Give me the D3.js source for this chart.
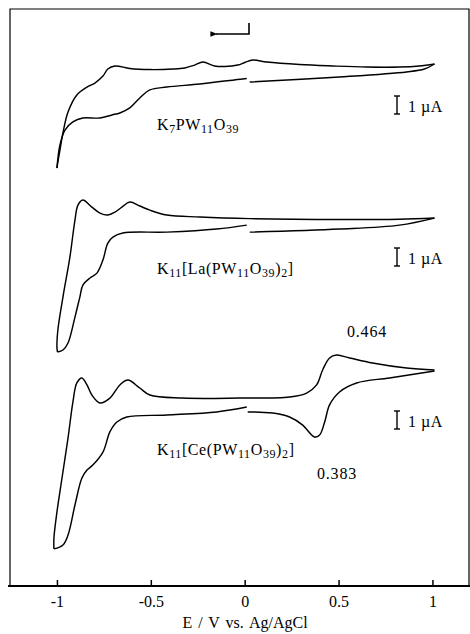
<!DOCTYPE html>
<html><head><meta charset="utf-8">
<script src="https://cdn.jsdelivr.net/npm/d3@7"></script>
<style>body{margin:0;background:#fff}svg{display:block}</style>
</head><body><svg id="c" width="470" height="634"></svg>
<script>
// ---- data (E in V vs Ag/AgCl, I in µA relative to each trace's baseline) ----
const xTicks = [-1, -0.5, 0, 0.5, 1];
const xTickLabels = ["-1", "-0.5", "0", "0.5", "1"];
const traceNames = ["K7PW11O39", "K11[La(PW11O39)2]", "K11[Ce(PW11O39)2]"];
const traceOffsets = [29.0, 20.44, 12.0];   // µA, vertical stacking offsets

// K7PW11O39
const k7Fwd = [[1.011,0],[0.93,-0.11],[0.824,-0.17],[0.649,-0.17],[0.468,-0.11],[0.293,-0.03],[0.117,0.11],[0.043,0.22],[0,0.08],[-0.037,-0.06],[-0.106,-0.14],[-0.16,-0.11],[-0.223,0.11],[-0.266,-0.06],[-0.319,-0.22],[-0.383,-0.28],[-0.505,-0.31],[-0.612,-0.25],[-0.691,-0.11],[-0.729,-0.28],[-0.755,-0.67],[-0.798,-1.06],[-0.84,-1.28],[-0.894,-1.72],[-0.941,-2.67],[-0.968,-3.83],[-0.984,-4.78],[-0.995,-5.44],[-1.0,-5.78]];
const k7RevA = [[-1.0,-5.78],[-0.984,-4.5],[-0.957,-3.67],[-0.915,-3.22],[-0.862,-3.0],[-0.771,-3.0],[-0.707,-2.83],[-0.665,-2.72],[-0.612,-2.44],[-0.559,-1.89],[-0.505,-1.44],[-0.415,-1.28],[-0.239,-1.11],[-0.011,-0.83],[0.011,-0.81]];
const k7RevB = [[0.027,-1.0],[0.505,-0.72],[0.862,-0.44],[0.957,-0.28],[1.011,0]];

// K11[La(PW11O39)2]
const laFwd = [[1.011,0],[0.824,-0.06],[0.505,-0.08],[0.027,-0.03],[-0.239,0.06],[-0.415,0.17],[-0.505,0.44],[-0.559,0.67],[-0.612,0.89],[-0.654,0.61],[-0.691,0.33],[-0.729,0.17],[-0.771,0.28],[-0.814,0.61],[-0.862,1.0],[-0.888,0.72],[-0.904,-0.11],[-0.931,-2.17],[-0.968,-4.39],[-0.995,-6.22],[-1.0,-7.17],[-0.997,-7.44]];
const laRevA = [[-0.997,-7.44],[-0.968,-7.33],[-0.941,-6.94],[-0.904,-5.5],[-0.878,-4.39],[-0.862,-3.72],[-0.824,-3.33],[-0.787,-3.06],[-0.755,-2.33],[-0.729,-1.39],[-0.702,-1.06],[-0.649,-0.83],[-0.415,-0.78],[-0.149,-0.61],[0.011,-0.39]];
const laRevB = [[0.027,-0.78],[0.505,-0.61],[0.824,-0.39],[1.011,0]];

// K11[Ce(PW11O39)2]
const ceFwd = [[1.011,0],[0.862,0.11],[0.681,0.39],[0.559,0.67],[0.489,0.83],[0.452,0.67],[0.415,0],[0.383,-0.83],[0.33,-1.28],[0.239,-1.5],[-0.027,-1.56],[-0.33,-1.56],[-0.505,-1.39],[-0.559,-1.0],[-0.622,-0.56],[-0.665,-0.83],[-0.718,-1.56],[-0.771,-1.83],[-0.814,-1.39],[-0.84,-0.83],[-0.867,-0.44],[-0.894,-0.72],[-0.915,-1.78],[-0.941,-3.78],[-0.973,-6.0],[-1.0,-7.89],[-1.016,-9.33],[-1.016,-9.94]];
const ceRevA = [[-1.016,-9.94],[-0.968,-9.72],[-0.941,-9.17],[-0.904,-7.5],[-0.867,-6.0],[-0.84,-5.56],[-0.809,-5.28],[-0.755,-4.56],[-0.718,-3.44],[-0.681,-2.89],[-0.628,-2.61],[-0.415,-2.5],[-0.149,-2.33],[0.011,-2.06]];
const ceRevB = [[0.016,-2.33],[0.149,-2.39],[0.239,-2.61],[0.309,-3.06],[0.372,-3.72],[0.399,-3.61],[0.426,-2.89],[0.452,-1.94],[0.505,-1.22],[0.596,-0.72],[0.771,-0.44],[1.011,-0.06]];

const peakLabels = ["0.464", "0.383"];

(function () {
// ---- drawing ----
const fL = 10, fR = 469, fT = 9, fB = 586;
const svg = d3.select("#c");
const x = d3.scaleLinear().domain([-1.25, 1.2]).range([10, 470]);
const y = d3.scaleLinear().domain([0, 32]).range([586, 10]);
const serif = "Liberation Serif, Times New Roman, Times, serif";

// frame
svg.append("path")
  .attr("d", `M${fL},${fB}V${fT}H${fR}V${fB}`)
  .attr("fill", "none").attr("stroke", "#000").attr("stroke-width", 1.2);

// x axis
const ax = svg.append("g").attr("transform", `translate(0,${fB})`)
  .call(d3.axisBottom(x).tickValues(xTicks).tickSizeInner(-6).tickSizeOuter(0)
    .tickFormat((d, i) => xTickLabels[i]).tickPadding(10));
ax.select(".domain").attr("stroke-width", 2).attr("d", `M8,0H470`);
ax.selectAll(".tick line").attr("stroke-width", 1.5);
ax.selectAll(".tick text").attr("font-family", serif).attr("font-size", 16).attr("fill", "#000");

svg.append("text").attr("x", 245).attr("y", 628).attr("text-anchor", "middle")
  .attr("font-family", serif).attr("font-size", 16).attr("word-spacing", 2)
  .text("E / V vs. Ag/AgCl");

// traces
const line = d3.line().x(d => x(d[0])).y(d => y(d[1])).curve(d3.curveCatmullRom.alpha(0.5));
const traces = [[k7Fwd, k7RevA, k7RevB], [laFwd, laRevA, laRevB], [ceFwd, ceRevA, ceRevB]];
traces.forEach((segs, i) => {
  segs.forEach(seg => {
    svg.append("path")
      .datum(seg.map(p => [p[0], p[1] + traceOffsets[i]]))
      .attr("d", line).attr("fill", "none").attr("stroke", "#000")
      .attr("stroke-width", 1.45).attr("stroke-linejoin", "round");
  });
});

// formula labels with subscripts
function formula(str, xx, yy) {
  const t = svg.append("text").attr("x", xx).attr("y", yy)
    .attr("font-family", serif).attr("font-size", 16).attr("letter-spacing", 0.6);
  const parts = str.match(/\d+|\D+/g);
  let sub = false;
  parts.forEach(p => {
    const isNum = /^\d+$/.test(p);
    const ts = t.append("tspan").text(p);
    if (isNum && !sub) { ts.attr("font-size", 12).attr("dy", 3); sub = true; }
    else if (!isNum && sub) { ts.attr("dy", -3); sub = false; }
    else if (isNum) ts.attr("font-size", 12);
  });
}
const labelPos = [[157, 130], [157, 274], [157, 455]];
traceNames.forEach((n, i) => formula(n, labelPos[i][0], labelPos[i][1]));

// scale bars (1 µA)
const barCenters = [105, 257, 420];
barCenters.forEach(cy => {
  const h = y(0) - y(1);
  const g = svg.append("g").attr("stroke", "#000").attr("stroke-width", 1.4);
  g.append("line").attr("x1", 397).attr("x2", 397).attr("y1", cy - h / 2).attr("y2", cy + h / 2);
  g.append("line").attr("x1", 394).attr("x2", 400).attr("y1", cy - h / 2).attr("y2", cy - h / 2);
  g.append("line").attr("x1", 394).attr("x2", 400).attr("y1", cy + h / 2).attr("y2", cy + h / 2);
  svg.append("text").attr("x", 408).attr("y", cy + 7).attr("font-family", serif)
    .attr("font-size", 16).attr("letter-spacing", 0.5).text("1 \u00b5A");
});

// peak potential labels
svg.append("text").attr("x", 347).attr("y", 337).attr("font-family", serif)
  .attr("font-size", 16).attr("letter-spacing", 0.8).text(peakLabels[0]);
svg.append("text").attr("x", 317).attr("y", 479).attr("font-family", serif)
  .attr("font-size", 16).attr("letter-spacing", 0.8).text(peakLabels[1]);

// scan direction arrow
svg.append("defs").append("marker").attr("id", "ah").attr("viewBox", "0 0 10 10")
  .attr("refX", 2).attr("refY", 5).attr("markerWidth", 11).attr("markerHeight", 7)
  .attr("orient", "auto").attr("markerUnits", "userSpaceOnUse")
  .append("path").attr("d", "M10,1L0,5L10,9Z").attr("fill", "#000");
svg.append("path").attr("d", "M249,23V34H216").attr("fill", "none")
  .attr("stroke", "#000").attr("stroke-width", 1.6).attr("marker-end", "url(#ah)");
})();
</script></body></html>
